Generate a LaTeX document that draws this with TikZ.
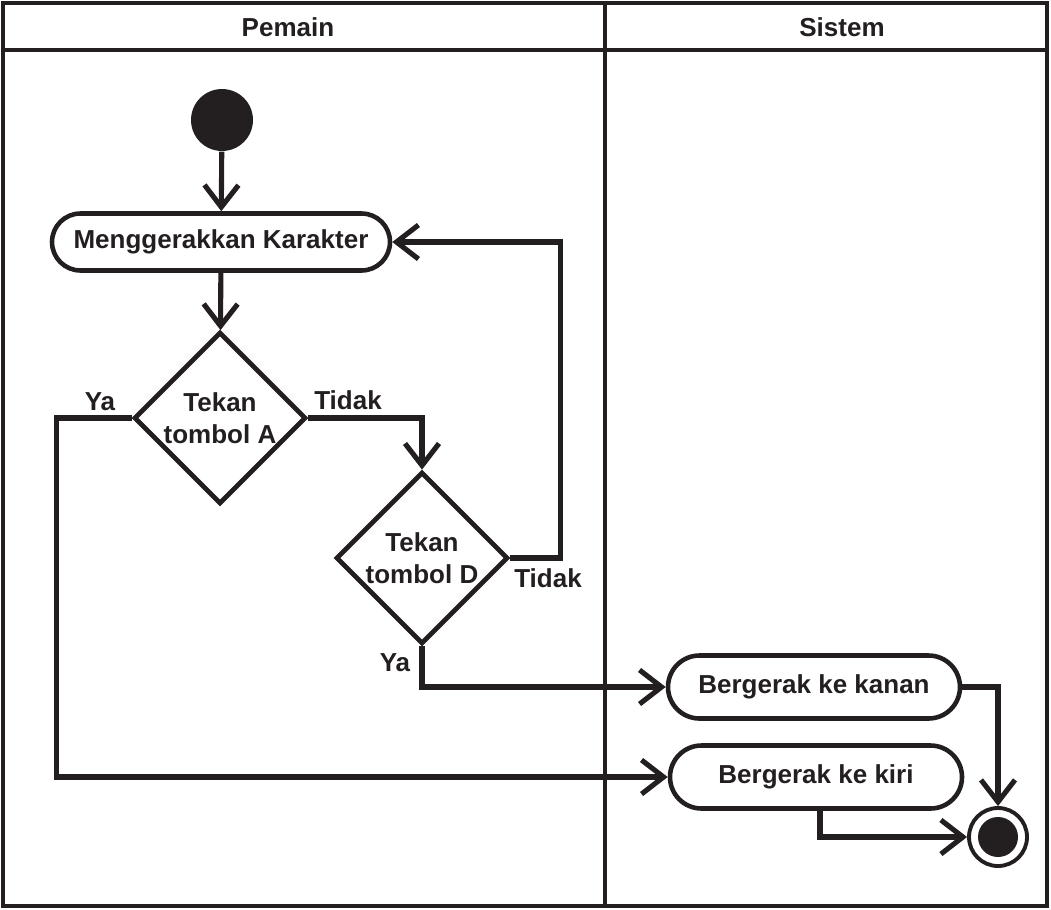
\documentclass[tikz,border=0pt]{standalone}
\usepackage{fontspec}
\setmainfont{Liberation Sans}
\usetikzlibrary{arrows.meta,shapes.geometric,shapes.misc}
\definecolor{ink}{HTML}{231F20}
\tikzset{
  lane/.style={draw=ink, line width=1.4pt},
  flow/.style={draw=ink, line width=1.45pt, -{Straight Barb[length=2.2mm,width=3.4mm]}},
  actbox/.style={rounded rectangle, draw=ink, line width=1.3pt, minimum height=0.57cm, inner sep=0pt},
  decide/.style={diamond, draw=ink, line width=1.35pt, minimum width=1.72cm, minimum height=1.72cm, inner sep=0pt, align=center},
  tag/.style={inner sep=0pt, text=ink}
}
\begin{document}
\begin{tikzpicture}[font=\fontsize{7.4}{9.1}\selectfont\bfseries, text=ink]
      \useasboundingbox (0, 0) rectangle (10.51, -9.09);
      \draw [lane] (0.03, -0.03) rectangle (10.47, -9.06);
      \draw [lane] (0.03, -0.50) -- (10.47, -0.50);
      \draw [lane] (6.05, -0.03) -- (6.05, -9.06);
      \node [tag] (pemain) at (2.88, -0.27) {Pemain};
      \node [tag] (sistem) at (8.42, -0.27) {Sistem};

      \node [circle, fill=ink, minimum size=0.62cm, inner sep=0pt] (start) at (2.22, -1.20) {};
      \node [actbox, minimum width=3.38cm] (gerak) at (2.21, -2.42) {Menggerakkan Karakter};
      \node [decide] (tekanA) at (2.20, -4.18) {Tekan\\tombol A};
      \node [decide] (tekanD) at (4.22, -5.58) {Tekan\\tombol D};
      \node [actbox, minimum width=2.92cm, minimum height=0.63cm] (kanan) at (8.14, -6.87) {Bergerak ke kanan};
      \node [actbox, minimum width=2.92cm, minimum height=0.63cm] (kiri) at (8.16, -7.77) {Bergerak ke kiri};
      \node [circle, draw=ink, line width=1.1pt, minimum size=0.58cm, inner sep=0pt,
             path picture={\fill [ink] (path picture bounding box.center) circle (0.2cm);}] (finish) at (9.98, -8.37) {};

      \draw [flow] (start) -- (gerak);
      \draw [flow] (gerak) -- (tekanA);
      \draw [flow] (tekanA.east) -| (tekanD.north);
      \draw [flow] (tekanD.east) -- ++(0.50, 0) |- (gerak.east);
      \draw [flow] (tekanD.south) |- (kanan.west);
      \draw [flow] (tekanA.west) -- ++(-0.75, 0) |- (kiri.west);
      \draw [flow] (kanan.east) -| (finish.north);
      \draw [flow] ([xshift=0.04cm]kiri.south) |- (finish.west);

      \node [tag] (yaA) at (1.00, -4.02) {Ya};
      \node [tag] (tidakA) at (3.48, -4.00) {Tidak};
      \node [tag] (tidakD) at (5.48, -5.78) {Tidak};
      \node [tag] (yaD) at (3.95, -6.63) {Ya};
    \end{tikzpicture}
\end{document}
